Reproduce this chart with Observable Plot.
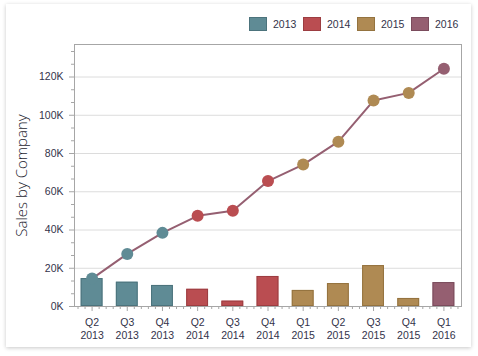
<!DOCTYPE html>
<html>
<head>
<meta charset="utf-8">
<script src="https://cdn.jsdelivr.net/npm/d3@7"></script>
<script src="https://cdn.jsdelivr.net/npm/@observablehq/plot@0.6"></script>
<style>
  html, body { margin: 0; padding: 0; background: #ffffff; }
  #wrap { position: relative; width: 478px; height: 356px; overflow: hidden; font-family: "Liberation Sans", Arial, sans-serif; }
  #panel { position: absolute; left: 6px; top: 4px; width: 465px; height: 343px; background: #fff;
           box-shadow: 0 1px 4px rgba(0,0,0,0.22); }
  #chart { position: absolute; left: 0; top: 0; }
  #legend { position: absolute; left: 249px; top: 17px; display: flex; }
  .item { width: 54px; display: flex; align-items: center; height: 14px; }
  .sw { width: 16px; height: 12px; border: 1px solid; margin-right: 6px; }
  .lab { font-size: 10.5px; color: #33334a; }
</style>
</head>
<body>
<div id="wrap">
  <div id="panel"></div>
  <div id="chart"></div>
  <div id="legend"></div>
</div>
<script>
const quarters = ["Q2","Q3","Q4","Q2","Q3","Q4","Q1","Q2","Q3","Q4","Q1"];
const years    = ["2013","2013","2013","2014","2014","2014","2015","2015","2015","2015","2016"];
const sales    = [14600, 12700, 11000, 9000, 2800, 15700, 8400, 12000, 21400, 4200, 12500];
const totals   = [14600, 27500, 38500, 47400, 50100, 65600, 74200, 86200, 107700, 111700, 124300];
const legendYears = ["2013","2014","2015","2016"];
const yearFill    = ["#5f8b95","#ba4d51","#af8a53","#955f71"];
const yearStroke  = ["#4c737c","#9c3d41","#94733f","#7b4c5d"];
const lineColor   = "#955f71";
const yTicks = [0, 20000, 40000, 60000, 80000, 100000, 120000];

const data = quarters.map((q, i) => ({i, q, year: years[i], sales: sales[i], total: totals[i]}));
const yMinor = d3.range(0, 137000, 20000 / 3).filter(v => !yTicks.some(t => Math.abs(t - v) < 1));
const xTicks = d3.range(quarters.length);
const xMinor = d3.range(-0.4, quarters.length - 0.5, 0.2).filter(v => Math.abs(v - Math.round(v)) > 0.01);

const txt = "#33334a";
const axisGray = "#a6a6a6";

const chart = Plot.plot({
  width: 478,
  height: 356,
  marginLeft: 74,
  marginRight: 17,
  marginTop: 44,
  marginBottom: 50,
  style: {background: "transparent", fontFamily: "Liberation Sans, Arial, sans-serif"},
  x: {type: "linear", domain: [-0.5, quarters.length - 0.5]},
  y: {domain: [0, 137000]},
  color: {domain: legendYears, range: yearFill},
  marks: [
    Plot.gridY(yTicks.slice(1), {stroke: "#dcdcdc", strokeOpacity: 1}),
    Plot.rectY(data, {x1: d => d.i - 0.31, x2: d => d.i + 0.31, y: "sales", fill: "year"}),
    Plot.rectY(data, {x1: d => d.i - 0.31, x2: d => d.i + 0.31, y: "sales", fill: "none",
      stroke: d => yearStroke[legendYears.indexOf(d.year)], inset: 0.5}),
    Plot.frame({stroke: axisGray}),
    Plot.axisY({ticks: yTicks, tickFormat: d => d / 1000 + "K", tickSize: 5, tickPadding: 6,
      stroke: axisGray, fill: txt, fontSize: 10.5, label: null}),
    Plot.axisY({ticks: yMinor, tickFormat: () => "", tickSize: 3, stroke: axisGray, label: null}),
    Plot.axisX({ticks: xTicks, tickFormat: i => quarters[i] + "\n" + years[i], tickSize: 5, tickPadding: 6,
      lineHeight: 1.18, stroke: axisGray, fill: txt, fontSize: 10.5, label: null}),
    Plot.axisX({ticks: xMinor, tickFormat: () => "", tickSize: 3, stroke: axisGray, label: null}),
    Plot.line(data, {x: "i", y: "total", stroke: lineColor, strokeWidth: 2}),
    Plot.dot(data, {x: "i", y: "total", r: 6, fill: "year"}),
    Plot.text(["Sales by Company"], {frameAnchor: "left", textAnchor: "middle", rotate: -90, dx: -52,
      fontSize: 15, fontWeight: 300, fontFamily: "Open Sans, Liberation Sans, sans-serif", fill: "#1e1e30"})
  ]
});
document.getElementById("chart").appendChild(chart);

const leg = document.getElementById("legend");
legendYears.forEach((y, k) => {
  const it = document.createElement("div");
  it.className = "item";
  it.innerHTML = `<div class="sw" style="background:${yearFill[k]};border-color:${yearStroke[k]}"></div><span class="lab">${y}</span>`;
  leg.appendChild(it);
});
</script>
</body>
</html>
